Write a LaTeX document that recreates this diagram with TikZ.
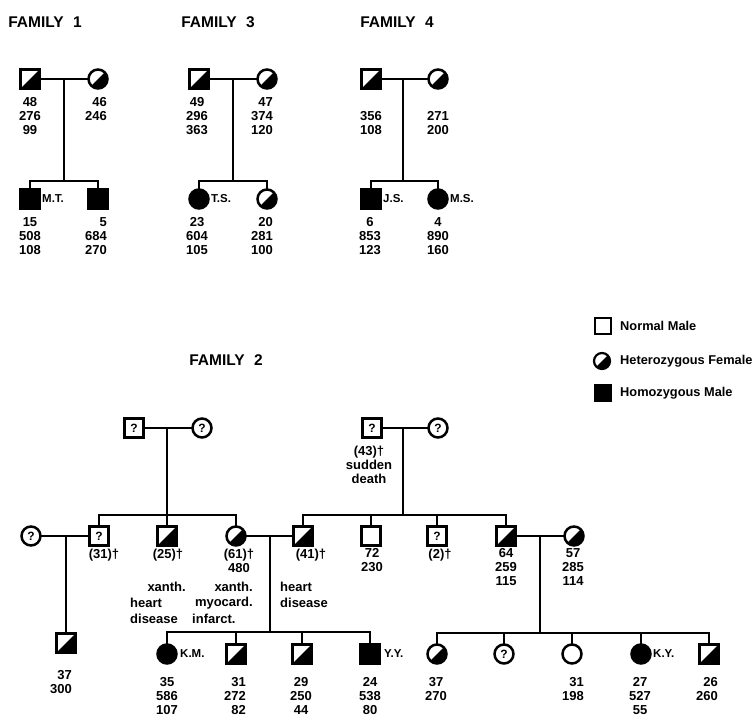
\documentclass[tikz,border=0pt]{standalone}
\usepackage{fontspec}
\setmainfont{Liberation Sans}
\newcommand\numfont{\bfseries\fontsize{13}{14}\selectfont}
\newcommand\nmfont{\bfseries\fontsize{11.5}{14}\selectfont}
\newcommand\ttlfont{\bfseries\fontsize{15.5}{18}\selectfont}
\newcommand\legfont{\bfseries\fontsize{12.8}{14}\selectfont}
\newcommand\qfont{\bfseries\fontsize{12}{14}\selectfont}
\begin{document}
\begin{tikzpicture}[x=1pt,y=-1pt,
  sym/.style={draw, line width=2.5pt, minimum size=19pt, inner sep=0pt, outer sep=0pt, font=\qfont},
  msq/.style={sym, rectangle},
  fci/.style={sym, circle},
  halffill/.style={path picture={\fill (path picture bounding box.north east) -- (path picture bounding box.south east) -- (path picture bounding box.south west) -- cycle;}},
  hsq/.style={msq, halffill},
  hci/.style={fci, halffill},
  fsq/.style={msq, fill=black},
  ffc/.style={fci, fill=black},
  lnk/.style={line width=2.3pt},
  num/.style={font=\numfont, align=center, inner sep=0pt, anchor=north},
  numr/.style={font=\numfont, align=right, inner sep=0pt, anchor=north east},
  txe/.style={font=\numfont, inner sep=0pt, anchor=east},
  txw/.style={font=\numfont, inner sep=0pt, anchor=west},
  nm/.style={font=\nmfont, inner sep=0pt, anchor=west},
  ttl/.style={font=\ttlfont, inner sep=0pt},
  leg/.style={font=\legfont, inner sep=0pt, anchor=west},
]
\useasboundingbox (0,0) rectangle (754,721);

% ---------------- FAMILY 1
\node[ttl] (t1) at (45,22) {FAMILY\hspace{0.6em}1};
\node[hsq] (f1f) at (30,79) {};
\node[hci] (f1m) at (98,79) {};
\coordinate (f1d) at (64,79);
\coordinate (f1s) at (64,181);
\draw[lnk] (f1f) -- (f1m);
\draw[lnk] (f1d) -- (f1s);
\node[fsq] (f1c1) at (30,199) {};
\node[fsq] (f1c2) at (98,199) {};
\draw[lnk] (f1c1) |- (f1s) -| (f1c2);
\node[num] (f1fl) at (30,97.5) {48\\276\\99};
\node[numr] (f1ml) at (107,97.5) {46\\246};
\node[nm] (f1n) at (42,199) {M.T.};
\node[num] (f1c1l) at (30,217.5) {15\\508\\108};
\node[numr] (f1c2l) at (107,217.5) {5\\684\\270};

% ---------------- FAMILY 3
\node[ttl] (t3) at (218,22) {FAMILY\hspace{0.6em}3};
\node[hsq] (f3f) at (199,79) {};
\node[hci] (f3m) at (267,79) {};
\coordinate (f3d) at (233,79);
\coordinate (f3s) at (233,181);
\draw[lnk] (f3f) -- (f3m);
\draw[lnk] (f3d) -- (f3s);
\node[ffc] (f3c1) at (199,199) {};
\node[hci] (f3c2) at (267,199) {};
\draw[lnk] (f3c1) |- (f3s) -| (f3c2);
\node[num] (f3fl) at (197,97.5) {49\\296\\363};
\node[numr] (f3ml) at (273,97.5) {47\\374\\120};
\node[nm] (f3n) at (211,199) {T.S.};
\node[num] (f3c1l) at (197,217.5) {23\\604\\105};
\node[numr] (f3c2l) at (273,217.5) {20\\281\\100};

% ---------------- FAMILY 4
\node[ttl] (t4) at (397,22) {FAMILY\hspace{0.6em}4};
\node[hsq] (f4f) at (371,79) {};
\node[hci] (f4m) at (438,79) {};
\coordinate (f4d) at (403,79);
\coordinate (f4s) at (403,181);
\draw[lnk] (f4f) -- (f4m);
\draw[lnk] (f4d) -- (f4s);
\node[fsq] (f4c1) at (371,199) {};
\node[ffc] (f4c2) at (438,199) {};
\draw[lnk] (f4c1) |- (f4s) -| (f4c2);
\node[num] (f4fl) at (371,111.5) {356\\108};
\node[num] (f4ml) at (438,111.5) {271\\200};
\node[nm] (f4n1) at (383,199) {J.S.};
\node[nm] (f4n2) at (450,199) {M.S.};
\node[num] (f4c1l) at (370,217.5) {6\\853\\123};
\node[num] (f4c2l) at (438,217.5) {4\\890\\160};

% ---------------- LEGEND
\node[msq, minimum size=16pt, line width=2.2pt] (lg1) at (603,326) {};
\node[leg] (lg1t) at (620,326) {Normal Male};
\node[hci, minimum size=16pt, line width=2.2pt] (lg2) at (602,361) {};
\node[leg] (lg2t) at (620,361) {Heterozygous Female};
\node[fsq, minimum size=16pt, line width=2.2pt] (lg3) at (603,393) {};
\node[leg] (lg3t) at (620,393) {Homozygous Male};

% ---------------- FAMILY 2
\node[ttl] (t2) at (226,360) {FAMILY\hspace{0.6em}2};

% left grandparents
\node[msq] (g1f) at (134,428) {?};
\node[fci] (g1m) at (202,428) {?};
\coordinate (g1d) at (167,428);
\coordinate (g1s) at (167,515);
\draw[lnk] (g1f) -- (g1m);
\node[msq] (c31) at (99,536) {?};
\node[hsq] (c25) at (167,536) {};
\node[hci] (c61) at (236,536) {};
\draw[lnk] (g1d) -- (c25);
\draw[lnk] (c31) |- (g1s) -| (c61);

% right grandparents
\node[msq] (g2f) at (372,428) {?};
\node[fci] (g2m) at (438,428) {?};
\coordinate (g2d) at (403,428);
\coordinate (g2s) at (403,515);
\draw[lnk] (g2f) -- (g2m);
\draw[lnk] (g2d) -- (g2s);
\node[hsq] (c41) at (303,536) {};
\node[msq] (c72) at (371,536) {};
\node[msq] (c2) at (437,536) {?};
\node[hsq] (c64) at (506,536) {};
\draw[lnk] (c41) |- (g2s) -| (c64);
\draw[lnk] (c72) -- (c72 |- g2s);
\draw[lnk] (c2) -- (c2 |- g2s);
\node[num] (g2l) at (369,445.5) {(43)†\\sudden\\death};

% left spouse
\node[fci] (sp1) at (31,536) {?};
\draw[lnk] (sp1) -- (c31);
\coordinate (m0) at (66,536);
\node[hsq] (c37) at (66,643) {};
\draw[lnk] (m0) -- (c37);
\node[numr] (c37l) at (72,670.5) {37\\300};

% middle marriage
\draw[lnk] (c61) -- (c41);
\coordinate (m1d) at (270,536);
\coordinate (m1s) at (270,632);
\draw[lnk] (m1d) -- (m1s);
\node[ffc] (km) at (167,654) {};
\node[hsq] (k31) at (236,654) {};
\node[hsq] (k29) at (302,654) {};
\node[fsq] (yy) at (370,654) {};
\draw[lnk] (km) |- (m1s) -| (yy);
\draw[lnk] (k31) -- (k31 |- m1s);
\draw[lnk] (k29) -- (k29 |- m1s);

% right marriage
\node[hci] (w57) at (574,536) {};
\draw[lnk] (c64) -- (w57);
\coordinate (m2d) at (540,536);
\coordinate (m2s) at (540,633);
\draw[lnk] (m2d) -- (m2s);
\node[hci] (r37) at (437,654) {};
\node[fci] (rq) at (504,654) {?};
\node[fci] (r31) at (572,654) {};
\node[ffc] (ky) at (641,654) {};
\node[hsq] (r26) at (709,654) {};
\draw[lnk] (r37) |- (m2s) -| (r26);
\draw[lnk] (rq) -- (rq |- m2s);
\draw[lnk] (r31) -- (r31 |- m2s);
\draw[lnk] (ky) -- (ky |- m2s);

% middle row labels
\node[num] (l31) at (104,548.5) {(31)†};
\node[num] (l25) at (168,548.5) {(25)†};
\node[num] (l61) at (239,548.5) {(61)†\\480};
\node[num] (l41) at (311,548.5) {(41)†};
\node[num] (l72) at (372,548.5) {72\\230};
\node[num] (l2) at (440,548.5) {(2)†};
\node[num] (l64) at (506,548.5) {64\\259\\115};
\node[num] (l57) at (573,548.5) {57\\285\\114};

\node[txe] (x1) at (186,587) {xanth.};
\node[txw] (x2) at (130,603) {heart};
\node[txw] (x3) at (130,619) {disease};
\node[txe] (x4) at (253,587) {xanth.};
\node[txe] (x5) at (253,603) {myocard.};
\node[txw] (x6) at (192,619) {infarct.};
\node[txw] (x7) at (280,587) {heart};
\node[txw] (x8) at (280,603) {disease};

% bottom row labels
\node[nm] (nkm) at (180,654) {K.M.};
\node[nm] (nyy) at (384,654) {Y.Y.};
\node[nm] (nky) at (653,654) {K.Y.};
\node[num] (b1) at (167,677.5) {35\\586\\107};
\node[numr] (b2) at (246,677.5) {31\\272\\82};
\node[num] (b3) at (301,677.5) {29\\250\\44};
\node[num] (b4) at (370,677.5) {24\\538\\80};
\node[num] (b5) at (436,677.5) {37\\270};
\node[numr] (b6) at (584,677.5) {31\\198};
\node[num] (b7) at (640,677.5) {27\\527\\55};
\node[numr] (b8) at (718,677.5) {26\\260};
\end{tikzpicture}
\end{document}
